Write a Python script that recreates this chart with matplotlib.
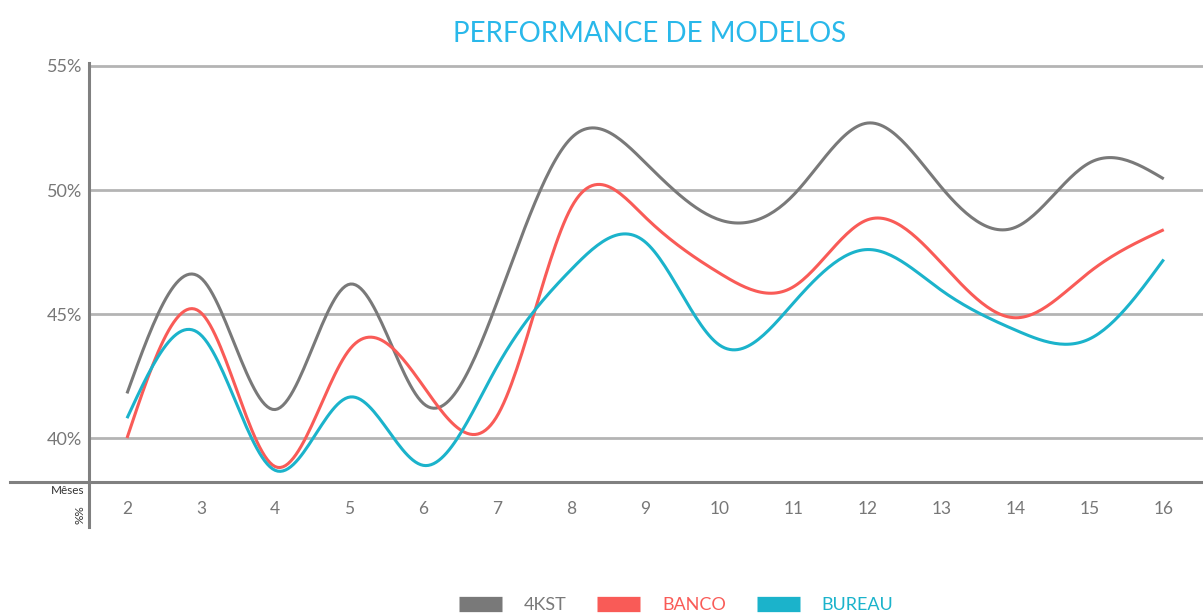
import numpy as np
import matplotlib
matplotlib.use("Agg")
import matplotlib.pyplot as plt
from matplotlib.lines import Line2D

# data (months 2..16, values in %)
meses = [2, 3, 4, 5, 6, 7, 8, 9, 10, 11, 12, 13, 14, 15, 16]
kst = [41.8, 46.45, 41.15, 46.2, 41.4, 45.5, 52.1, 51.1, 48.8, 49.8, 52.7, 50.1, 48.5, 51.1, 50.45]
banco = [40.0, 45.05, 38.85, 43.55, 42.1, 40.9, 49.3, 48.9, 46.65, 46.1, 48.8, 47.05, 44.85, 46.7, 48.4]
bureau = [40.8, 44.15, 38.7, 41.65, 38.9, 42.9, 46.8, 47.9, 43.75, 45.45, 47.6, 45.95, 44.35, 44.0, 47.2]

series = ["4KST", "BANCO", "BUREAU"]
colors = ["#797979", "#f95b57", "#1bb3cb"]
yticks = [40, 45, 50, 55]


def natural_spline(x, y, n=400):
    """ Natural cubic spline through the points, for a smooth line """
    x = np.asarray(x, float)
    y = np.asarray(y, float)
    k = len(x)
    h = np.diff(x)
    a = np.zeros((k, k))
    b = np.zeros(k)
    a[0, 0] = a[-1, -1] = 1
    for i in range(1, k - 1):
        a[i, i - 1] = h[i - 1]
        a[i, i] = 2 * (h[i - 1] + h[i])
        a[i, i + 1] = h[i]
        b[i] = 6 * ((y[i + 1] - y[i]) / h[i] - (y[i] - y[i - 1]) / h[i - 1])
    m = np.linalg.solve(a, b)
    xs = np.linspace(x[0], x[-1], n)
    idx = np.clip(np.searchsorted(x, xs) - 1, 0, k - 2)
    t0 = xs - x[idx]
    t1 = x[idx + 1] - xs
    hh = h[idx]
    ys = (m[idx] * t1 ** 3 / (6 * hh) + m[idx + 1] * t0 ** 3 / (6 * hh)
          + (y[idx] / hh - m[idx] * hh / 6) * t1
          + (y[idx + 1] / hh - m[idx + 1] * hh / 6) * t0)
    return xs, ys


plt.rcParams['font.family'] = ['Lato', 'DejaVu Sans']

fig = plt.figure(figsize=(12.03, 6.15), dpi=100)
ax = fig.add_axes([0.074, 0.2163, 0.926, 0.6885])

for yv in yticks:
    ax.axhline(yv, color="#b4b4b4", lw=2, zorder=1)

for vals, col in zip([kst, banco, bureau], colors):
    xs, ys = natural_spline(meses, vals)
    ax.plot(xs, ys, color=col, lw=2.2, zorder=3, solid_capstyle='butt')

ax.set_xlim(1.487, 16.53)
ax.set_ylim(38.23, 55.3)
for s in ax.spines.values():
    s.set_visible(False)
ax.set_xticks(meses)
ax.set_xticklabels([str(m) for m in meses])
ax.set_yticks(yticks)
ax.set_yticklabels([f"{v}%" for v in yticks])
ax.tick_params(length=0, colors="#777777", labelsize=12.5)
ax.tick_params(axis='x', pad=14)
ax.tick_params(axis='y', pad=5, labelsize=13)

# axis lines extending past the plot area
fig.add_artist(Line2D([10 / 1203, 1.0], [1 - 482 / 615] * 2, color="#808080",
                      lw=2.2, transform=fig.transFigure))
fig.add_artist(Line2D([89 / 1203] * 2, [1 - 63 / 615, 1 - 527 / 615],
                      color="#808080", lw=2.2, transform=fig.transFigure))

fig.text(84 / 1203, 1 - 491 / 615, "Mêses", ha='right', va='center',
         fontsize=8.5, color="#333333")
fig.text(80 / 1203, 1 - 515 / 615, "%%", ha='center', va='center',
         fontsize=8.5, color="#333333", rotation=90)

fig.text(650 / 1203, 1 - 34 / 615, "PERFORMANCE DE MODELOS", ha='center',
         va='center', fontsize=20, color="#29b8ea")

handles = [Line2D([], [], color=c, lw=11, solid_capstyle='butt') for c in colors]
leg = fig.legend(handles, series, loc='center', bbox_to_anchor=(676 / 1203, 1 - 605 / 615),
                 ncol=3, frameon=False, fontsize=13, handlelength=2.4,
                 handletextpad=1.2, columnspacing=1.7)
for txt, c in zip(leg.get_texts(), colors):
    txt.set_color(c)

fig.savefig("out.png", dpi=100)
